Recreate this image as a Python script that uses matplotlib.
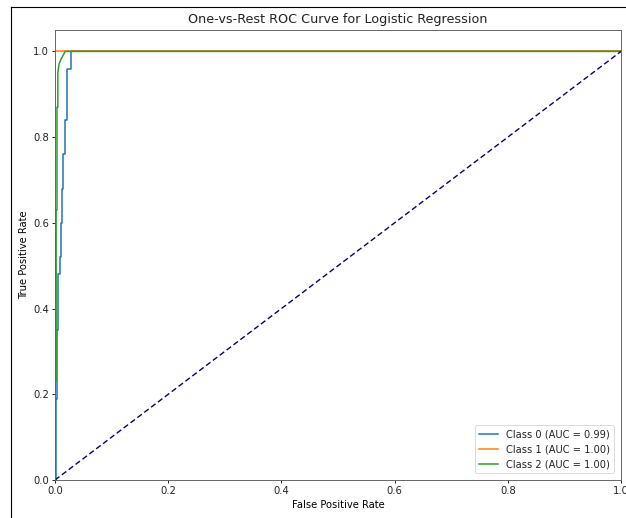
import numpy as np
import matplotlib
matplotlib.use("Agg")
from matplotlib import pyplot as plt
from matplotlib.lines import Line2D

# ROC points
fpr_0 = [0, 0.002, 0.002, 0.004, 0.004, 0.006, 0.006, 0.008, 0.008, 0.011, 0.011,
         0.013, 0.013, 0.015, 0.015, 0.018, 0.018, 0.022, 0.022, 0.029, 0.029, 1.0]
tpr_0 = [0, 0, 0.19, 0.19, 0.35, 0.35, 0.48, 0.48, 0.52, 0.52, 0.60,
         0.60, 0.68, 0.68, 0.76, 0.76, 0.84, 0.84, 0.96, 0.96, 1.0, 1.0]

fpr_1 = [0, 0, 1.0]
tpr_1 = [0, 1.0, 1.0]

fpr_2 = [0, 0, 0.002, 0.002, 0.0035, 0.0035, 0.005, 0.005, 0.007, 0.010, 0.018, 1.0]
tpr_2 = [0, 0.23, 0.23, 0.63, 0.63, 0.87, 0.87, 0.95, 0.97, 0.98, 1.0, 1.0]

labels = ["Class 0 (AUC = 0.99)", "Class 1 (AUC = 1.00)", "Class 2 (AUC = 1.00)"]
colors = ["#1f77b4", "#ff7f0e", "#2ca02c"]

plt.rcParams["text.color"] = "#222222"
plt.rcParams["xtick.labelcolor"] = "#222222"
plt.rcParams["ytick.labelcolor"] = "#222222"

fig = plt.figure(figsize=(6.26, 5.18), dpi=100)
ax = fig.add_axes([55/626, 1-480/518, 566/626, 450/518])

for fpr, tpr, lab, c in zip([fpr_0, fpr_1, fpr_2], [tpr_0, tpr_1, tpr_2], labels, colors):
    ax.plot(fpr, tpr, color=c, lw=1.1, label=lab)
ax.plot([0, 1], [0, 1], color="navy", lw=1.0, linestyle="--", dashes=(4, 2.2))

ax.set_xlim(0.0, 1.0)
ax.set_ylim(0.0, 1.05)
ax.set_xlabel("False Positive Rate", fontsize=7.2, labelpad=2.5)
ax.set_ylabel("True Positive Rate", fontsize=7.2, labelpad=3)
ax.set_title("One-vs-Rest ROC Curve for Logistic Regression", fontsize=9.2, pad=5)
ax.tick_params(labelsize=7.2, width=0.6, length=2.5, pad=2)
for s in ax.spines.values():
    s.set_linewidth(0.7)
    s.set_color("#666666")
leg = ax.legend(loc="lower right", fontsize=7.1, handlelength=2.0,
                borderaxespad=0.7)
leg.get_frame().set_linewidth(0.6)

# screenshot frame
fig.add_artist(Line2D([11/626, 11/626], [0, 1-7/518], color="black", lw=0.8))
fig.add_artist(Line2D([11/626, 1], [1-7/518, 1-7/518], color="black", lw=0.8))

plt.savefig("out.png", dpi=100)
